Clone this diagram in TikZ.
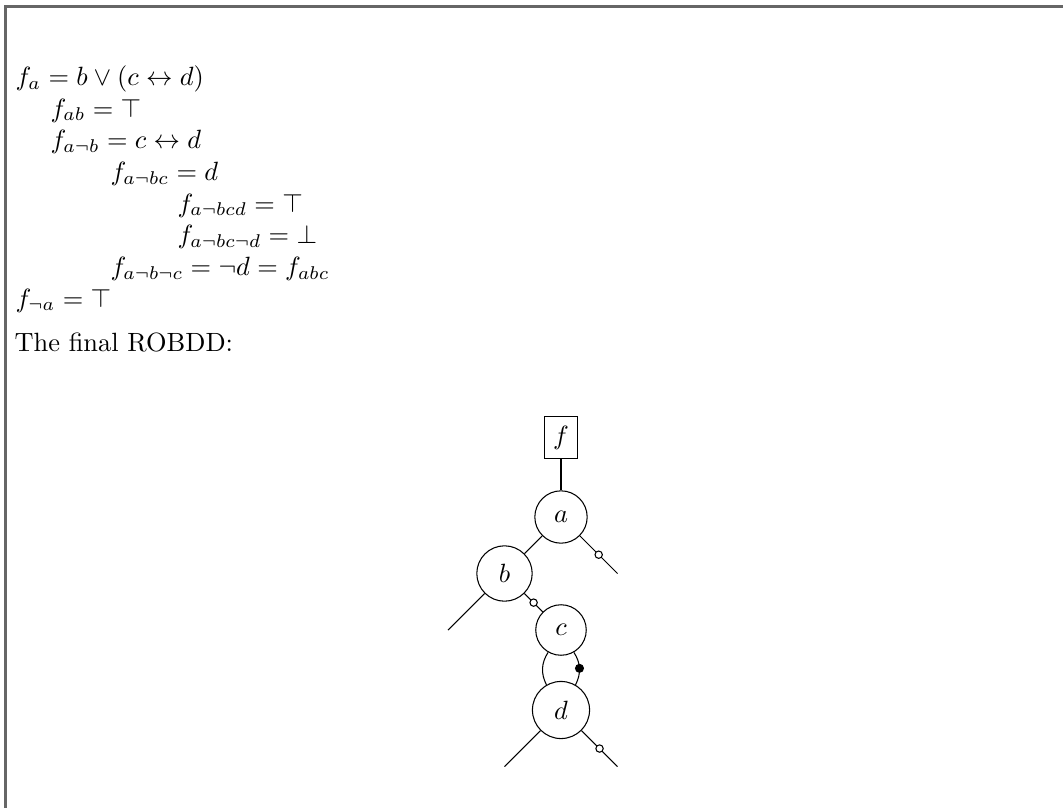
\documentclass[tikz,border=0pt]{standalone}
\usepackage{amsmath,amssymb}
\begin{document}
\begin{tikzpicture}[x=0.3788pt, y=-0.3788pt,
  frameline/.style={draw=black!60, line width=0.8pt},
  txt/.style={anchor=base west, inner sep=0pt},
  bddnode/.style={circle, draw, inner sep=4.6pt},
  termbox/.style={rectangle, draw, inner sep=3.4pt},
  odot/.style={circle, draw, fill=white, inner sep=0pt, minimum size=2.8pt},
  fdot/.style={circle, draw, fill=black, inner sep=0pt, minimum size=3pt}]
\useasboundingbox (0,0) rectangle (1063,807);
% frame
\coordinate (fbl) at (5.5,808);
\coordinate (ftl) at (5.5,6.5);
\coordinate (ftr) at (1064,6.5);
\draw[frameline] (fbl) -- (ftl) -- (ftr);
% text
\node[txt] (l1) at (15,85.5) {$f_a = b \lor (c \leftrightarrow d)$};
\node[txt] (l2) at (50,117) {$f_{ab} = \top$};
\node[txt] (l3) at (50,148.7) {$f_{a\neg b} = c \leftrightarrow d$};
\node[txt] (l4) at (110,180.4) {$f_{a\neg bc} = d$};
\node[txt] (l5) at (177,212) {$f_{a\neg bcd} = \top$};
\node[txt] (l6) at (177,243.8) {$f_{a\neg bc\neg d} = \bot$};
\node[txt] (l7) at (110,275.5) {$f_{a\neg b\neg c} = \neg d = f_{abc}$};
\node[txt] (l8) at (15,307) {$f_{\neg a} = \top$};
\node[txt] (l9) at (14,351) {The final ROBDD:};
% tree
\node[termbox] (f) at (561,437.5) {$f$};
\node[bddnode] (a) at (561,517) {$a$};
\node[bddnode] (b) at (504.5,573.5) {$b$};
\node[bddnode] (c) at (561,630) {$c$};
\node[bddnode] (d) at (561,710) {$d$};
\coordinate (a1) at (617.5,573.5);
\coordinate (b0) at (448,630);
\coordinate (d0) at (504.5,766.5);
\coordinate (d1) at (617.5,766.5);
\draw (f) -- (a);
\draw (a) -- (b);
\draw (a) -- (a1) node[odot, pos=0.5] {};
\draw (b) -- (b0);
\draw (b) -- (c) node[odot, pos=0.5] {};
\draw (c) to[bend right=30] (d);
\draw (c) to[bend left=30] node[fdot] {} (d);
\draw (d) -- (d0);
\draw (d) -- (d1) node[odot, pos=0.5] {};
\end{tikzpicture}
\end{document}
